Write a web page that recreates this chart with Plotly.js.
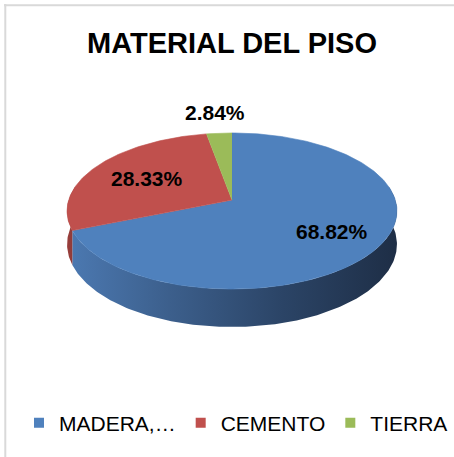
<!DOCTYPE html>
<html><head><meta charset="utf-8">
<script src="https://cdn.plot.ly/plotly-3.0.1.min.js"></script>
<style>html,body{margin:0;padding:0;background:#fff}#chart{width:454px;height:457px}</style>
</head><body><div id="chart"></div>
<script>
// ---- data ----
const categories = ['MADERA,…', 'CEMENTO', 'TIERRA'];
const percentages = [68.82, 28.33, 2.84];
const labelTexts = ['68.82%', '28.33%', '2.84%'];

// ---- style ----
const topColors = ['#4F81BD', '#C0504D', '#9BBB59'];
const sideColors = [
  [[0, '#4B78B0'], [0.3, '#3C5F8C'], [0.65, '#2B4466'], [1, '#1E2E46']],
  [[0, '#9A3F3C'], [1, '#8A3836']],
  [[0, '#7A9446'], [1, '#6A823C']]
];
const labelRho = [0.7, 0.62, 1.36];
const FONT = 'Liberation Sans, Arial, Helvetica, sans-serif';

// 3D pie projection (perspective tilted disc)
const G = {cx: 232, cy: 200, A: 163.3, B: 76.5, persp: 0.141, depth: 32.6, sideFrom: 80, sideTo: 280};
const rad = d => d * Math.PI / 180;
function proj(deg, rho, drop) {
  const s = Math.sin(rad(deg)), c = Math.cos(rad(deg));
  const z = 1 + G.persp * rho * c;
  const zEdge = 1 + G.persp * c;
  return [G.cx + G.A * rho * s / z, G.cy - G.B * rho * c / z + (drop ? G.depth / zEdge : 0)];
}
function arc(a0, a1, rho, drop) {
  const pts = [];
  const n = Math.max(2, Math.ceil(Math.abs(a1 - a0)));
  for (let i = 0; i <= n; i++) pts.push(proj(a0 + (a1 - a0) * i / n, rho, drop));
  return pts;
}

const total = percentages.reduce((a, b) => a + b, 0);
const bounds = [];
let acc = 0;
percentages.forEach(v => { const a0 = acc / total * 360; acc += v; bounds.push([a0, acc / total * 360]); });

const sideTraces = [], topTraces = [], legendTraces = [], annotations = [];
bounds.forEach(([a0, a1], i) => {
  const lo = Math.max(a0, G.sideFrom), hi = Math.min(a1, G.sideTo);
  if (lo < hi) {
    const pts = arc(lo, hi, 1, false).concat(arc(hi, lo, 1, true));
    sideTraces.push({
      type: 'scatter', mode: 'lines', x: pts.map(p => p[0]), y: pts.map(p => p[1]),
      fill: 'toself', fillcolor: topColors[i],
      fillgradient: {type: 'horizontal', colorscale: sideColors[i]},
      line: {width: 0}, showlegend: false, hoverinfo: 'skip'
    });
  }
  const tp = [proj(0, 0, false)].concat(arc(a0, a1, 1, false));
  topTraces.push({
    type: 'scatter', mode: 'lines', x: tp.map(p => p[0]), y: tp.map(p => p[1]),
    fill: 'toself', fillcolor: topColors[i], line: {width: 0.6, color: topColors[i]},
    showlegend: false, hoverinfo: 'skip'
  });
  legendTraces.push({
    type: 'scatter', mode: 'markers', x: [null], y: [null], name: categories[i],
    marker: {symbol: 'square', size: 10, color: topColors[i]}, showlegend: true
  });
  const lp = proj((a0 + a1) / 2, labelRho[i], false);
  annotations.push({
    x: lp[0], y: lp[1], xref: 'x', yref: 'y', text: labelTexts[i], showarrow: false,
    font: {family: FONT, size: 21, color: '#000000', weight: 'bold'}
  });
});

const layout = {
  width: 454, height: 457,
  margin: {l: 0, r: 0, t: 0, b: 0},
  paper_bgcolor: '#ffffff', plot_bgcolor: '#ffffff',
  title: {text: 'MATERIAL DEL PISO', font: {family: FONT, size: 29, color: '#000000', weight: 'bold'},
          x: 232 / 454, xanchor: 'center', y: 1 - 43 / 457, yanchor: 'middle'},
  xaxis: {range: [0, 454], visible: false, fixedrange: true},
  yaxis: {range: [457, 0], visible: false, fixedrange: true},
  showlegend: true,
  legend: {orientation: 'h', x: 236 / 454, xanchor: 'center', y: 1 - 423 / 457, yanchor: 'middle',
           font: {family: FONT, size: 21, color: '#000000'}, itemgap: 2, traceorder: 'normal',
           itemclick: false, itemdoubleclick: false},
  annotations: annotations,
  shapes: [
    {type: 'line', xref: 'paper', yref: 'paper', x0: 4 / 454, x1: 1, y0: 1 - 5.3 / 457, y1: 1 - 5.3 / 457, line: {color: '#D9D9D9', width: 2}},
    {type: 'line', xref: 'paper', yref: 'paper', x0: 5.3 / 454, x1: 5.3 / 454, y0: 0, y1: 1 - 4 / 457, line: {color: '#D9D9D9', width: 2}}
  ],
  hovermode: false
};

Plotly.newPlot('chart', sideTraces.concat(topTraces, legendTraces), layout, {displayModeBar: false, staticPlot: true});
</script>
</body></html>
